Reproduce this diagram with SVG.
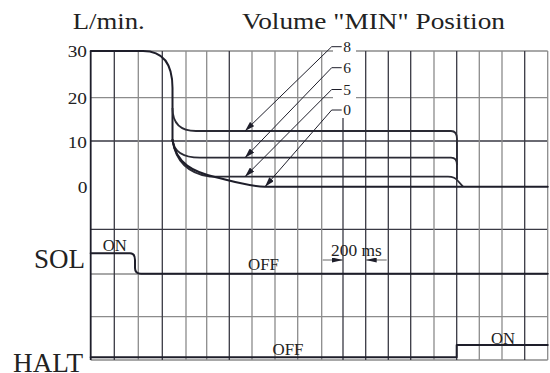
<svg xmlns="http://www.w3.org/2000/svg" width="550" height="373" viewBox="0 0 550 373">
<style>
.g{stroke:#8c8c8c;stroke-width:1.3;fill:none}
.d{stroke:#3a3a44;stroke-width:1.3;fill:none}
.c{stroke:#1e1e2a;stroke-width:2;fill:none;stroke-linecap:round;stroke-linejoin:round}
.lv{stroke:#2a2a34;stroke-width:1.8;fill:none}
.ld{stroke:#1e1e2a;stroke-width:1;fill:none}
.sm{font-family:"Liberation Serif","Times New Roman",serif;font-size:16.5px;fill:#222}
.sig{font-family:"Liberation Serif","Times New Roman",serif;font-size:27px;fill:#222}
</style>
<defs>
<marker id="ah" viewBox="0 0 10 6" refX="10" refY="3" markerWidth="10" markerHeight="6" markerUnits="userSpaceOnUse" orient="auto">
<path d="M0,0 L10,3 L0,6 Z" fill="#1e1e2a"/>
</marker>
<marker id="dh" viewBox="0 0 11 5" refX="11" refY="2.5" markerWidth="11" markerHeight="5" markerUnits="userSpaceOnUse" orient="auto">
<path d="M0,0 L11,2.5 L0,5 Z" fill="#1e1e2a"/>
</marker>
</defs>
<rect width="550" height="373" fill="#fff"/>
<g id="grid">
<path class="g" d="M90.7,51H547.7M90.7,97.7H547.7M90.7,274H547.7M90.7,316.7H547.7M90.7,360H547.7"/>
<path class="d" d="M90.7,141H547.7M90.7,229.3H547.7"/>
<path class="g" d="M138.3,51V360M186,51V360M206.7,51V360M252,51V360M275,51V360M297.7,51V360M321.7,51V360M434,51V360M479.3,51V360M502,51V360M547.7,51V360"/>
<path class="d" d="M114.3,51V360M162.3,51V360M229.3,51V360M343,118V360M365.7,51V360M388.3,51V360M410.7,51V360M456.7,51V360M524.7,51V360"/>
<path d="M90.7,51V360" stroke="#1e1e2a" stroke-width="1.8" fill="none"/>
<rect x="333" y="40" width="23" height="77" fill="#fff"/>
</g>
<g id="axis-labels">
<text class="sig" style="font-size:23.5px" x="72.7" y="29.3" textLength="72" lengthAdjust="spacingAndGlyphs">L/min.</text>
<text class="sig" style="font-size:23.5px" x="242" y="29.3" textLength="263" lengthAdjust="spacingAndGlyphs">Volume "MIN" Position</text>
<text class="sm" x="67.7" y="57.3" textLength="19.3" lengthAdjust="spacingAndGlyphs">30</text>
<text class="sm" x="67.7" y="104.3" textLength="19.3" lengthAdjust="spacingAndGlyphs">20</text>
<text class="sm" x="67.7" y="148.3" textLength="19.3" lengthAdjust="spacingAndGlyphs">10</text>
<text class="sm" x="77.7" y="193.3" textLength="9.7" lengthAdjust="spacingAndGlyphs">0</text>
<text class="sig" x="34" y="268.3" textLength="51" lengthAdjust="spacingAndGlyphs">SOL</text>
<text class="sig" x="13" y="371.5" textLength="70" lengthAdjust="spacingAndGlyphs">HALT</text>
</g>
<g id="flow-curves">
<path class="c" d="M90.7,51H143Q172.5,51 172.5,88V141"/>
<path class="lv" d="M172.5,108Q172.5,131 196,131H451Q457,131 457,139V179"/>
<path class="lv" d="M172.5,139Q174,157.7 200,157.7H451Q457,157.7 457,165"/>
<path class="lv" d="M172.5,140C176,164 192,174 210,176.7H448Q455,176.7 458,181L463,186.7"/>
<path class="c" d="M172.5,140C176,164 194,172 215,177C235,182 250,186.7 265,186.7H547.7"/>
</g>
<g id="position-labels">
<text class="sm" style="font-size:15.5px" x="343.3" y="52">8</text>
<text class="sm" style="font-size:15.5px" x="343.3" y="73">6</text>
<text class="sm" style="font-size:15.5px" x="343.3" y="95">5</text>
<text class="sm" style="font-size:15.5px" x="343.3" y="115">0</text>
</g>
<g id="connectors">
<path class="ld" d="M341.7,46.7H331.7L245,131" marker-end="url(#ah)"/>
<path class="ld" d="M341.7,67.7H331.7L245,157.7" marker-end="url(#ah)"/>
<path class="ld" d="M341.7,89.5H331.7L245,176.7" marker-end="url(#ah)"/>
<path class="ld" d="M341.7,110H331.7L265,186.7" marker-end="url(#ah)"/>
<path d="M322.7,260H343" stroke="#666" stroke-width="1" fill="none" marker-end="url(#dh)"/>
<path d="M386.7,260H365.7" stroke="#666" stroke-width="1" fill="none" marker-end="url(#dh)"/>
</g>
<g id="sol-signal">
<path class="c" d="M90.7,253.3H130Q135,253.3 135,260V268Q135,273.7 141,273.7H547.7"/>
<text class="sm" x="102.7" y="251" textLength="24" lengthAdjust="spacingAndGlyphs">ON</text>
<text class="sm" x="248" y="270" textLength="31" lengthAdjust="spacingAndGlyphs">OFF</text>
<text class="sm" x="331" y="256" textLength="50.7" lengthAdjust="spacingAndGlyphs">200 ms</text>
</g>
<g id="halt-signal">
<path class="c" d="M90.7,357.3H456.7V345H547.7"/>
<text class="sm" x="272.5" y="355" textLength="31" lengthAdjust="spacingAndGlyphs">OFF</text>
<text class="sm" x="491" y="344" textLength="24" lengthAdjust="spacingAndGlyphs">ON</text>
</g>
</svg>
